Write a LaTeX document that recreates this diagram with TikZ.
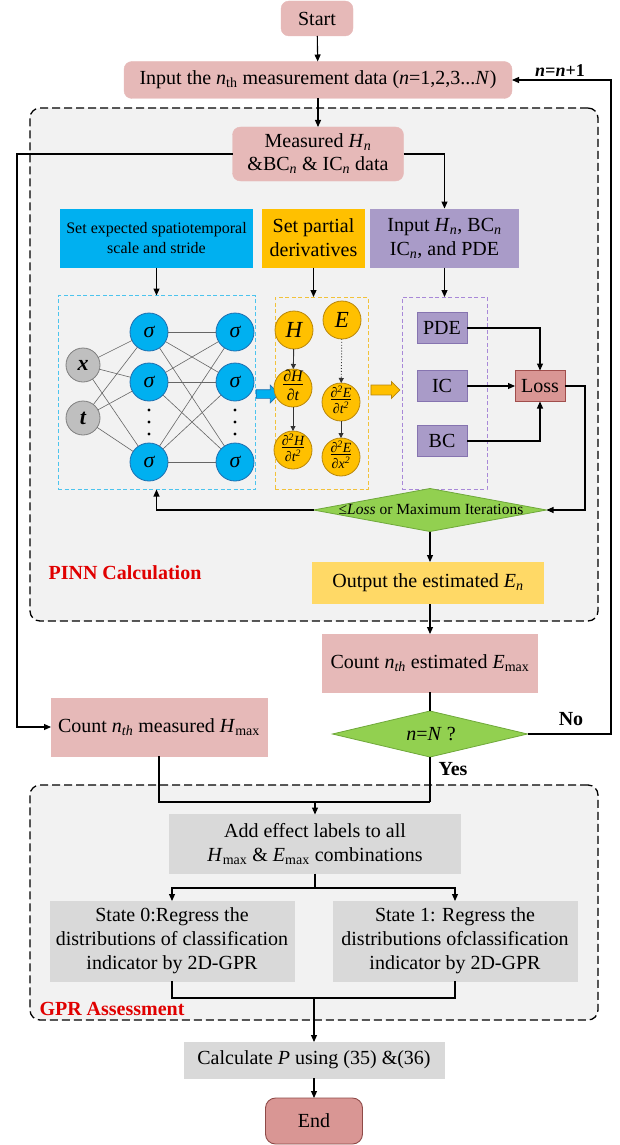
\documentclass[tikz,border=0pt]{standalone}
\usepackage{fontspec}
\setmainfont{Liberation Serif}
\usepackage{amsmath}
\usetikzlibrary{arrows.meta,shapes.geometric,shapes.arrows,calc}
\definecolor{pinkc}{HTML}{E6B9B8}
\definecolor{endc}{HTML}{D99694}
\definecolor{endb}{HTML}{8E4A48}
\definecolor{grayc}{HTML}{D9D9D9}
\definecolor{bgc}{HTML}{F2F2F2}
\definecolor{bluec}{HTML}{00B0F0}
\definecolor{blueb}{HTML}{1F6FB0}
\definecolor{orangec}{HTML}{FFC000}
\definecolor{orangeb}{HTML}{B8860B}
\definecolor{purplec}{HTML}{A99BC8}
\definecolor{purpleb}{HTML}{8674B0}
\definecolor{purpled}{HTML}{A888D8}
\definecolor{cyand}{HTML}{4CC4EE}
\definecolor{oranged}{HTML}{F2C23A}
\definecolor{lossc}{HTML}{D99694}
\definecolor{lossb}{HTML}{A04E4C}
\definecolor{outc}{HTML}{FFD966}
\definecolor{greenc}{HTML}{92D050}
\definecolor{greenb}{HTML}{6FA83A}
\definecolor{neurg}{HTML}{BFBFBF}
\definecolor{neurgb}{HTML}{7F7F7F}
\definecolor{redc}{HTML}{E00000}
\newcommand{\sbt}[1]{\textsubscript{#1}}
\newcommand{\iti}[1]{\textit{#1}}
\newcommand{\pfr}[2]{\begin{tabular}{@{}c@{}}#1\\[-3pt]\hline\rule{0pt}{1.05em}#2\end{tabular}}
\begin{document}
\begin{tikzpicture}[x=1pt,y=-1pt,
  every node/.style={outer sep=0pt},
  font=\fontsize{20}{24}\selectfont,
  conn/.style={draw=black,line width=1.1pt,-{Triangle[length=7pt,width=6pt]}},
  plain/.style={draw=black,line width=1.1pt},
  pinkr/.style={fill=pinkc,draw=pinkc,rounded corners=8pt,align=center,inner sep=1pt},
  pinks/.style={fill=pinkc,draw=pinkc,align=center,inner sep=1pt},
  grayb/.style={fill=grayc,draw=grayc,align=center,inner sep=1pt},
  region/.style={fill=bgc,draw=black,line width=1.3pt,dash pattern=on 8pt off 4pt,rounded corners=10pt,inner sep=0pt},
  subbox/.style={draw=#1,line width=0.8pt,dash pattern=on 4pt off 2.5pt,inner sep=0pt},
  inn/.style={circle,fill=neurg,draw=neurgb,line width=0.8pt,minimum size=34pt,inner sep=0pt,font=\fontsize{22}{22}\selectfont\bfseries\itshape},
  hid/.style={circle,fill=bluec,draw=blueb,line width=0.8pt,minimum size=38pt,inner sep=0pt,font=\fontsize{22}{22}\selectfont\itshape},
  der/.style={circle,fill=orangec,draw=orangeb,line width=0.8pt,minimum size=38pt,inner sep=0pt},
  frac/.style={font=\fontsize{#1}{#1}\selectfont\itshape,inner sep=0pt},
  dotn/.style={circle,fill=black,minimum size=3.2pt,inner sep=0pt},
  nnedge/.style={draw=black!60,line width=0.6pt},
  darr/.style={draw=black!80,line width=0.9pt,-{Triangle[length=5pt,width=5pt]}},
  pbox/.style={fill=purplec,draw=purpleb,line width=0.8pt,minimum width=50pt,minimum height=31pt,inner sep=0pt},
  lab/.style={font=\fontsize{20}{24}\selectfont\bfseries}
]
\useasboundingbox (0,0) rectangle (619,1145);

% regions
\node[region,minimum width=568pt,minimum height=513pt] (pinn) at (314,364.5) {};
\node[region,minimum width=568pt,minimum height=235pt] (gpr) at (314,902.5) {};

% top
\node[pinkr,minimum width=72pt,minimum height=35pt] (start) at (317,18.5) {Start};
\node[pinkr,minimum width=388pt,minimum height=37pt] (input) at (318,80) {Input the \iti{n}\sbt{th} measurement data (\iti{n}=1,2,3...\iti{N})};
\node[font=\fontsize{18}{18}\selectfont\bfseries\itshape] (nn1) at (560,71) {n=n\textup{+1}};
\node[pinkr,minimum width=171pt,minimum height=54pt] (meas) at (318,154) {Measured \iti{H}\sbt{\iti{n}}\\[-1pt]\&BC\sbt{\iti{n}} \& IC\sbt{\iti{n}} data};

% set boxes
\node[fill=bluec,minimum width=193pt,minimum height=59pt,align=center,inner sep=0pt,font=\fontsize{16}{20}\selectfont] (setb) at (156.5,238) {Set expected spatiotemporal\\scale and stride};
\node[fill=orangec,minimum width=103pt,minimum height=59pt,align=center,inner sep=0pt] (seto) at (313.5,238) {Set partial\\derivatives};
\node[fill=purplec,minimum width=149pt,minimum height=59pt,align=center,inner sep=0pt] (setp) at (444.5,238) {Input \iti{H}\sbt{\iti{n}}, BC\sbt{\iti{n}}\\IC\sbt{\iti{n}}, and PDE};

% dashed sub boxes
\node[subbox=cyand,minimum width=197pt,minimum height=194pt] (nnb) at (156.5,392.5) {};
\node[subbox=oranged,minimum width=93pt,minimum height=192pt] (ob) at (321.5,393) {};
\node[subbox=purpled,minimum width=85pt,minimum height=192pt] (pb) at (444.5,393) {};

% neural network
\node[inn] (nx) at (83,365) {x};
\node[inn] (nt) at (83,418) {t};
\node[hid] (h11) at (149,332) {σ};
\node[hid] (h12) at (149,382) {σ};
\node[hid] (h13) at (149,462) {σ};
\node[hid] (h21) at (235,332) {σ};
\node[hid] (h22) at (235,382) {σ};
\node[hid] (h23) at (235,462) {σ};
\foreach \a in {nx,nt}{\foreach \b in {h11,h12,h13}{\draw[nnedge] (\a) -- (\b);}}
\foreach \a in {h11,h12,h13}{\foreach \b in {h21,h22,h23}{\draw[nnedge] (\a) -- (\b);}}
\node[dotn] (da1) at (149,410) {};
\node[dotn] (da2) at (149,422) {};
\node[dotn] (da3) at (149,434) {};
\node[dotn] (db1) at (235,410) {};
\node[dotn] (db2) at (235,422) {};
\node[dotn] (db3) at (235,434) {};

% fat arrows
\node[single arrow,fill=bluec,draw=blueb,line width=0.7pt,minimum height=23pt,minimum width=17pt,inner sep=4pt,single arrow head extend=4.5pt] (barr) at (265.5,394) {};
\node[single arrow,fill=orangec,draw=orangeb,line width=0.7pt,minimum height=29pt,minimum width=17pt,inner sep=4.5pt,single arrow head extend=3.5pt] (yarr) at (383,390) {};

% derivatives
\node[der,font=\fontsize{23}{23}\selectfont\itshape] (dH) at (294,330) {H};
\node[der,font=\fontsize{23}{23}\selectfont\itshape] (dE) at (342,320) {E};
\node[der] (dHt) at (293,388) {};
\node[frac=16] (dHtl) at (dHt) {\pfr{∂H}{∂t}};
\node[der] (dEt) at (341,402) {};
\node[frac=14] (dEtl) at (dEt) {\pfr{∂\textsuperscript{2}E}{∂t\textsuperscript{2}}};
\node[der] (dHtt) at (293,450) {};
\node[frac=14] (dHttl) at (dHtt) {\pfr{∂\textsuperscript{2}H}{∂t\textsuperscript{2}}};
\node[der] (dEx) at (341,457) {};
\node[frac=14] (dExl) at (dEx) {\pfr{∂\textsuperscript{2}E}{∂x\textsuperscript{2}}};
\draw[darr] (dH) -- (dHt);
\draw[darr] (dHt) -- (dHtt);
\draw[darr,dotted] (dE) -- (dEt);
\draw[darr] (dEt) -- (dEx);

% PDE / IC / BC / Loss
\node[pbox] (pde) at (442,328) {PDE};
\node[pbox] (ic) at (442,386) {IC};
\node[pbox] (bc) at (442,441) {BC};
\node[fill=lossc,draw=lossb,line width=0.8pt,minimum width=50pt,minimum height=31pt,inner sep=0pt] (loss) at (540,386) {Loss};
\draw[conn] (pde.east) -| (loss.north);
\draw[conn] (ic) -- (loss);
\draw[conn] (bc.east) -| (loss.south);

% decision 1
\node[diamond,fill=greenc,draw=greenb,line width=0.8pt,minimum width=233pt,minimum height=43pt,inner sep=0pt] (d1) at (430,510) {};
\node[font=\fontsize{15.5}{15.5}\selectfont] (d1t) at (431,509) {≤\iti{Loss} or Maximum Iterations};
\coordinate (lr) at (585,386);
\draw[conn] (loss.east) -- (lr) |- (d1.east);
\draw[conn] (d1.west) -| (nnb.south);

% output
\node[fill=outc,minimum width=232pt,minimum height=42pt,inner sep=0pt] (out) at (428,583) {Output the estimated \iti{E}\sbt{\iti{n}}};
\node[lab,text=redc] (pinnl) at (125,573) {PINN Calculation};
\draw[conn] (d1.south) -- (d1.south |- out.north);

% count boxes
\node[pinks,minimum width=215pt,minimum height=58pt] (ce) at (430,663) {Count \iti{n}\sbt{\iti{th}} estimated \iti{E}\sbt{max}};
\draw[conn] (out.south -| ce.north) -- (ce.north);
\node[diamond,fill=greenc,draw=greenb,line width=0.8pt,minimum width=195pt,minimum height=46pt,inner sep=0pt] (d2) at (430,734) {};
\node (d2t) at (431,734) {\iti{n}=\iti{N} ?};
\draw[plain] (ce.south) -- (d2.north);
\node[pinks,minimum width=216pt,minimum height=58pt] (ch) at (159,727) {Count \iti{n}\sbt{\iti{th}} measured \iti{H}\sbt{max}};
\coordinate (ll1) at (17,154);
\draw[conn] (meas.west) -- (ll1) |- (ch.west);
\draw[conn] (meas.east) -| (setp.north);
\draw[conn] (setb.south) -- (nnb.north);
\draw[conn] (seto.south) -- (seto.south |- ob.north);
\draw[conn] (setp.south) -- (pb.north);
\draw[conn] (start) -- (input);
\draw[conn] (input) -- (meas);

% loop back
\coordinate (rl) at (611,734);
\draw[conn] (d2.east) -- (rl) |- (input.east);
\node[lab] (nol) at (571,719) {No};
\node[lab] (yesl) at (453,769) {Yes};

% GPR
\node[grayb,minimum width=291pt,minimum height=59pt] (add) at (315,844) {Add effect labels to all\\\iti{H}\sbt{max} \& \iti{E}\sbt{max} combinations};
\coordinate (m1) at (430,802);
\draw[plain] (d2.south) -- (m1);
\draw[plain] (ch.south) |- (m1);
\draw[conn] (add.north |- m1) -- (add.north);
\node[grayb,minimum width=244pt,minimum height=80pt] (s0) at (172,941) {State 0:Regress the\\distributions of classification\\indicator by 2D-GPR};
\node[grayb,minimum width=244pt,minimum height=80pt] (s1) at (455,941) {State 1: Regress the\\distributions ofclassification\\indicator by 2D-GPR};
\coordinate (sp) at (315,888);
\draw[plain] (add.south) -- (sp);
\draw[conn] (sp) -| (s0.north);
\draw[conn] (sp) -| (s1.north);
\node[lab,text=redc] (gprl) at (112,1009) {GPR Assessment};
\node[grayb,minimum width=260pt,minimum height=36pt] (calc) at (314,1060) {Calculate \iti{P} using (35) \&(36)};
\coordinate (jn) at (314,998);
\draw[plain] (s0.south) |- (jn);
\draw[plain] (s1.south) |- (jn);
\draw[conn] (jn) -- (calc.north);
\node[fill=endc,draw=endb,line width=0.9pt,rounded corners=10pt,minimum width=97pt,minimum height=46pt,inner sep=0pt] (end) at (314,1121) {End};
\draw[conn] (calc.south) -- (end.north);
\end{tikzpicture}
\end{document}
